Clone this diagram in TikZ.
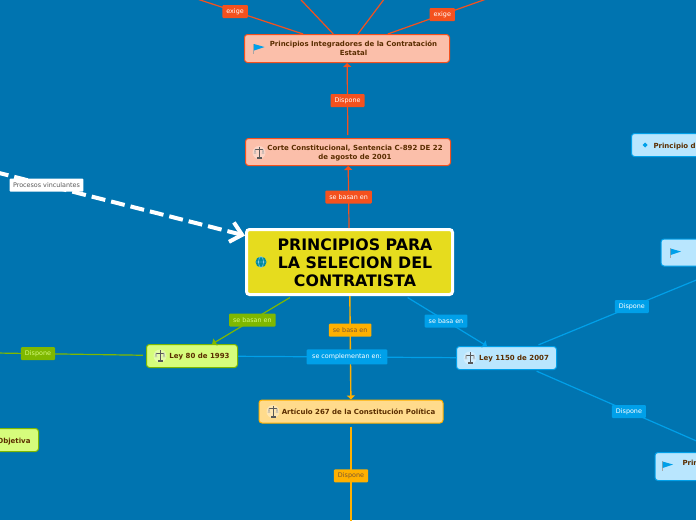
\documentclass[tikz,border=0pt]{standalone}
\usepackage{fontspec}
\setmainfont{DejaVu Sans}
\usetikzlibrary{arrows.meta}
\definecolor{fondo}{HTML}{0074B0}
\definecolor{rojo}{HTML}{F4511E}
\definecolor{rojoclaro}{HTML}{FBBFAA}
\definecolor{verde}{HTML}{7FB800}
\definecolor{verdeclaro}{HTML}{D6FC7C}
\definecolor{naranja}{HTML}{FFB000}
\definecolor{naranjaclaro}{HTML}{FFDB8C}
\definecolor{azul}{HTML}{00A0E9}
\definecolor{azulclaro}{HTML}{B9E6FE}
\definecolor{cafe}{HTML}{5A2D00}
\definecolor{amarillo}{HTML}{E6DC1E}
\newcommand{\bajar}[2]{\raisebox{-#1}[\height][\depth]{#2}}
\newcommand{\cajatxt}[3][1pt]{\hspace*{#2}\bajar{#1}{\begin{tabular}{@{}c@{}}#3\end{tabular}}}
\tikzset{
  >={Triangle[length=4pt,width=8pt]},
  caja/.style={draw,rounded corners=3pt,line width=1pt,inner sep=0pt,text=cafe,
    font=\fontsize{7}{8.8}\selectfont\bfseries},
  etiqueta/.style={rounded corners=1pt,inner xsep=4pt,inner ysep=0pt,minimum height=13pt,
    font=\fontsize{6.4}{7}\selectfont},
  rojolbl/.style={etiqueta,fill=rojo,text=white},
  verdelbl/.style={etiqueta,fill=verde,text=verdeclaro},
  naranjalbl/.style={etiqueta,fill=naranja,text=cafe!80},
  azullbl/.style={etiqueta,fill=azul,text=white},
  flagicon/.pic={
    \fill[gray!70] (-4.5,-5) rectangle (-3.5,5);
    \fill[azul] (-3.5,-4.5) -- (7,-1.5) -- (-3.5,2) -- cycle;
  },
  balanza/.pic={
    \fill[white,opacity=.35] (0,0) circle (6.5pt);
    \draw[black!65,line width=.6pt] (0,-6) -- (0,4) (-4,-3) -- (4,-3);
    \draw[gray!70,line width=.4pt] (-4,-3) -- (-5,1) -- (-3,1) -- cycle (4,-3) -- (3,1) -- (5,1) -- cycle;
    \fill[black!65] (-2.5,4) rectangle (2.5,6);
  },
}
\begin{document}
\begin{tikzpicture}[x=1pt,y=-1pt]
\path[use as bounding box,clip] (0,0) rectangle (696,520);
\fill[fondo] (0,0) rectangle (696,520);

\coordinate (arribaA) at (167,-11);
\coordinate (arribaB) at (296,-5.4);
\coordinate (arribaC) at (388,-6);
\coordinate (arribaD) at (499,-5.5);
\coordinate (izqProcesos) at (-152,134.5);
\coordinate (izqLey) at (-70,352);
\coordinate (abajoArt) at (351,528);
\coordinate (derArriba) at (728,267);
\coordinate (derAbajo) at (724,453);

\node[caja,draw=white,fill=amarillo,line width=3pt,text=black,minimum width=206pt,minimum height=65pt,
  font=\fontsize{15.8}{18}\selectfont\bfseries,align=center] (main) at (349.5,262)
  {\cajatxt[3pt]{11pt}{PRINCIPIOS PARA\\LA SELECION DEL\\CONTRATISTA}};
\node[caja,draw=rojo,fill=rojoclaro,minimum width=205pt,minimum height=28pt] (principios) at (347,48.5)
  {\cajatxt{13pt}{Principios Integradores de la Contratación\\Estatal}};
\node[caja,draw=rojo,fill=rojoclaro,minimum width=205pt,minimum height=27pt] (corte) at (348,152)
  {\cajatxt{14pt}{Corte Constitucional, Sentencia C-892 DE 22\\de agosto de 2001}};
\node[caja,draw=verde,fill=verdeclaro,minimum width=91pt,minimum height=23pt] (ley80) at (192,356)
  {\cajatxt{15pt}{Ley 80 de 1993}};
\node[caja,draw=verde,fill=verdeclaro,minimum width=100pt,minimum height=23pt,anchor=east,
  text width=92pt,inner xsep=8pt,align=right] (objetiva) at (39,440) {\bajar{2pt}{Objetiva}};
\node[caja,draw=naranja,fill=naranjaclaro,minimum width=184pt,minimum height=23pt] (art) at (351,411.5)
  {\cajatxt{15pt}{Artículo 267 de la Constitución Política}};
\node[caja,draw=azul,fill=azulclaro,minimum width=100pt,minimum height=23pt] (ley1150) at (506.5,358)
  {\cajatxt{15pt}{Ley 1150 de 2007}};
\node[caja,draw=azul,fill=azulclaro,minimum height=23pt,anchor=west,text width=120pt,align=left] (principio) at (631,145)
  {\hspace*{22pt}\bajar{2pt}{Principio d}};
\node[caja,draw=azul,fill=azulclaro,minimum height=27pt,minimum width=80pt,anchor=west] (bandera) at (660.5,252.5) {};
\node[caja,draw=azul,fill=azulclaro,minimum height=28pt,anchor=west,text width=120pt,align=left] (prin) at (654.5,466.5)
  {\hspace*{27.5pt}\bajar{1pt}{Prin}\\~};

\begin{scope}[every edge/.style={draw=rojo,line width=1.2pt}]
  \path (principios) edge node[rojolbl] {exige} (arribaA);
  \path (principios) edge (arribaB);
  \path (principios) edge (arribaC);
  \path (principios) edge node[rojolbl,pos=.49] {exige} (arribaD);
  \path [->] (corte) edge [shorten <=3pt] node[rojolbl] {Dispone} (principios);
  \path [->] (main) edge node[rojolbl] {se basan en} (corte);
\end{scope}

\begin{scope}[every edge/.style={draw=naranja,line width=1.4pt}]
  \path [->] (main) edge node[naranjalbl,pos=.33] {se basa en} (art);
  \path (art) edge [shorten <=3pt] node[naranjalbl] {Dispone} (abajoArt);
\end{scope}

\begin{scope}[every edge/.style={draw=verde,line width=1.2pt}]
  \path [->] (main) edge [shorten <=3pt] node[verdelbl] {se basan en} (ley80);
  \path (ley80) edge [shorten <=3pt] node[verdelbl] {Dispone} (izqLey);
\end{scope}

\begin{scope}[every edge/.style={draw=azul,line width=1.2pt}]
  \path (ley80) edge node[azullbl,minimum height=15pt,inner xsep=5.5pt] {se complementan en:} (ley1150);
  \path [->] (main) edge [shorten <=3pt] node[azullbl] {se basa en} (ley1150);
  \path (ley1150) edge [shorten <=3pt] node[azullbl] {Dispone} (derArriba);
  \path (ley1150) edge [shorten <=3pt] node[azullbl] {Dispone} (derAbajo);
\end{scope}

\path [draw=white,line width=4pt,dash pattern=on 14pt off 6pt,dash phase=8.5pt,-{Straight Barb[length=11pt,width=20pt]}]
  (izqProcesos) -- node[fill=white,text=black!65,rounded corners=1pt,inner xsep=3.5pt,inner ysep=0pt,
  minimum height=13pt,font=\fontsize{6.4}{7}\selectfont] (procesos) {Procesos vinculantes} (main);

% iconos
\path (257.5,48.5) pic {flagicon};
\path (259,152.5) pic {balanza};
\path (160,356) pic {balanza};
\path (273,411.5) pic {balanza};
\path (470,358) pic {balanza};
\path (674,253) pic {flagicon};
\path (666,466) pic {flagicon};
\fill[azul] (645,142.5) -- (647.5,145) -- (645,147.5) -- (642.5,145) -- cycle;
\fill[teal!70!azul] (261,262) circle (5.5pt);
\draw[azulclaro,line width=.4pt] (261,262) circle (2.5pt and 5.5pt) (255.5,262) -- (266.5,262);
\end{tikzpicture}
\end{document}
